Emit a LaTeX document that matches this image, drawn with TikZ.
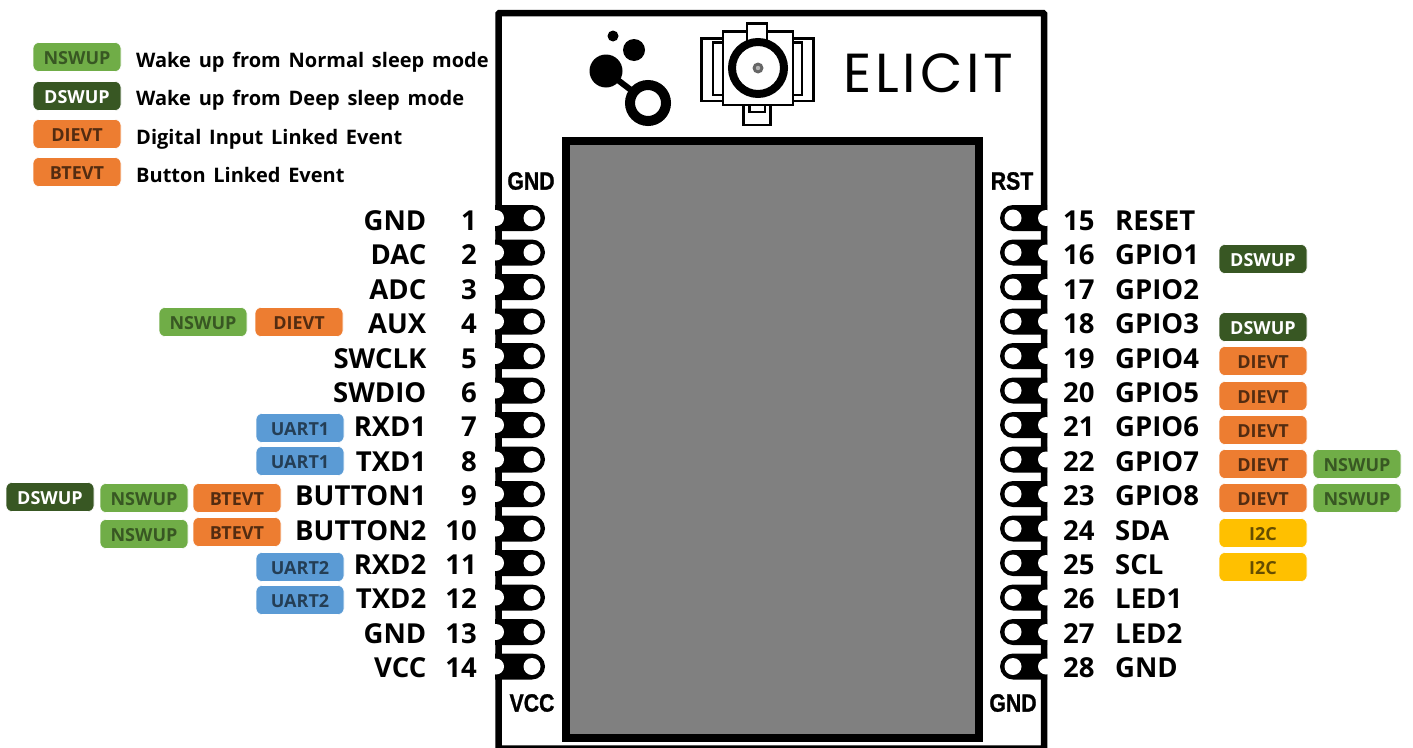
\documentclass[tikz,border=0pt]{standalone}
\usepackage{fontspec}
\setmainfont{Open Sans}
\newfontfamily\legendfont[WordSpace=1.5]{Open Sans}
\newfontfamily\logofont[LetterSpace=7]{Poppins}
\newfontfamily\silkfont[BoldFeatures={FakeBold=1.2}]{Liberation Sans}
\definecolor{cgreen}{HTML}{70AD47}
\definecolor{cdark}{HTML}{385723}
\definecolor{corange}{HTML}{ED7D31}
\definecolor{cblue}{HTML}{5B9BD5}
\definecolor{cyellow}{HTML}{FFC000}
\definecolor{cgray}{HTML}{808080}
\tikzset{
  chip/.style={rounded corners=6pt,minimum width=88pt,minimum height=29pt,inner sep=0pt,text height=15pt,text depth=0pt,font=\fontsize{18}{20}\selectfont\bfseries,draw=white,line width=.6pt},
  nswup/.style={chip,fill=cgreen,text=cdark},
  dswup/.style={chip,fill=cdark,text=white},
  evt/.style={chip,fill=corange,text=corange!35!black},
  uart/.style={chip,fill=cblue,text=cblue!40!black},
  itc/.style={chip,fill=cyellow,text=cyellow!40!black},
  legend/.style={anchor=base west,inner sep=0pt,font=\fontsize{20}{24}\legendfont\bfseries},
  pinl/.style={anchor=base east,inner sep=0pt,font=\fontsize{27.5}{30}\selectfont\bfseries},
  pinr/.style={anchor=base west,inner sep=0pt,font=\fontsize{27.5}{30}\selectfont\bfseries},
  silk/.style={inner sep=0pt,font=\fontsize{25}{28}\silkfont\bfseries},
}
\begin{document}
\begin{tikzpicture}[x=1pt,y=-1pt]
\useasboundingbox (0,0) rectangle (1413,747);
% board outline
\draw[line width=6.5pt,rounded corners=1pt] (498.5,13) rectangle (1044,748.5);
% module
\draw[line width=8pt,fill=cgray] (566,141) rectangle (979,738);
% pads
\foreach \i in {0,...,13}{
  \pgfmathsetmacro{\py}{218+34.5*\i}
  \fill (495,\py-13) -- (532,\py-13) arc[start angle=-90,end angle=90,radius=13] -- (495,\py+13) -- cycle;
  \fill[white] (532,\py) circle[radius=8.5];
  \fill[white] (496,\py) circle[radius=8];
  \fill (1047,\py-13) -- (1013,\py-13) arc[start angle=270,end angle=90,radius=13] -- (1047,\py+13) -- cycle;
  \fill[white] (1013,\py) circle[radius=8.5];
  \fill[white] (1046,\py) circle[radius=8];
}
% bubble logo
\fill (613,36) circle[radius=5.5];
\fill (634,50) circle[radius=11];
\fill (606,71) circle[radius=16.5];
\draw[line width=6pt] (606,71) -- (648,103);
\draw[line width=10pt,fill=white] (648,103) circle[radius=18];
% antenna connector
\draw[line width=2.4pt,fill=white] (701.5,38.5) rectangle (813.5,101);
\draw[line width=2.4pt,fill=white] (713,42.5) rectangle (802,95);
\draw[line width=2.4pt,fill=white] (743.5,100) rectangle (770.5,125);
\draw[line width=2.4pt,fill=white] (749.5,100) rectangle (765,112);
\draw[line width=2.4pt,fill=white] (723,31.5) rectangle (793,105);
\draw[line width=2.4pt,fill=white] (747,44) -- (747,23.5) -- (767,23.5) -- (767,44);
\draw[line width=8pt,fill=white] (758,68) circle[radius=26];
\fill[black!60] (758,68) circle[radius=5.5];
\fill[black!30] (758,68) circle[radius=2.2];
% logo text
\node[inner sep=0pt,anchor=base west] (elicit) at (843,92) {\fontsize{55}{60}\logofont ELICIT};
% silk labels
\node[silk] (sgnd) at (531,181) {\scalebox{.85}[1]{GND}};
\node[silk] (srst) at (1012,181) {\scalebox{.85}[1]{RST}};
\node[silk] (svcc) at (532,703) {\scalebox{.85}[1]{VCC}};
\node[silk] (sgndb) at (1013,703) {\scalebox{.85}[1]{GND}};
% legend
\node[nswup] (ln) at (77,57) {NSWUP};
\node[dswup] (ld) at (77,96) {DSWUP};
\node[evt] (le) at (77,134) {DIEVT};
\node[evt] (lb) at (77,172) {BTEVT};
\node[legend] (ltn) at (136,67) {Wake up from Normal sleep mode};
\node[legend] (ltd) at (136,105) {Wake up from Deep sleep mode};
\node[legend] (lte) at (136,144) {Digital Input Linked Event};
\node[legend] (ltb) at (136,182) {Button Linked Event};
% left pins
\foreach \i/\n/\t in {0/1/GND,1/2/DAC,2/3/ADC,3/4/AUX,4/5/SWCLK,5/6/SWDIO,6/7/RXD1,7/8/TXD1,8/9/BUTTON1,9/10/BUTTON2,10/11/RXD2,11/12/TXD2,12/13/GND,13/14/VCC}{
  \pgfmathsetmacro{\py}{230.5+34.4*\i}
  \node[pinl] (lname\n) at (426.5,\py) {\t};
  \node[pinl] (lnum\n) at (477,\py) {\n};
}
% right pins
\foreach \i/\n/\t in {0/15/RESET,1/16/GPIO1,2/17/GPIO2,3/18/GPIO3,4/19/GPIO4,5/20/GPIO5,6/21/GPIO6,7/22/GPIO7,8/23/GPIO8,9/24/SDA,10/25/SCL,11/26/LED1,12/27/LED2,13/28/GND}{
  \pgfmathsetmacro{\py}{230.5+34.4*\i}
  \node[pinr] (rnum\n) at (1063,\py) {\n};
  \node[pinr] (rname\n) at (1115,\py) {\t};
}
% left chips
\node[nswup] (a1) at (203,322) {NSWUP};
\node[evt] (a2) at (299,322) {DIEVT};
\node[uart] (a3) at (300,428) {UART1};
\node[uart] (a4) at (300,461) {UART1};
\node[dswup] (a5) at (50,497) {DSWUP};
\node[nswup] (a6) at (144,498) {NSWUP};
\node[evt] (a7) at (237,498) {BTEVT};
\node[nswup] (a8) at (144,534) {NSWUP};
\node[evt] (a9) at (237,532) {BTEVT};
\node[uart] (a10) at (300,567) {UART2};
\node[uart] (a11) at (300,600) {UART2};
% right chips
\node[dswup] (b1) at (1263,259) {DSWUP};
\node[dswup] (b2) at (1263,327) {DSWUP};
\node[evt] (b3) at (1263,361) {DIEVT};
\node[evt] (b4) at (1263,396) {DIEVT};
\node[evt] (b5) at (1263,430) {DIEVT};
\node[evt] (b6) at (1263,464) {DIEVT};
\node[nswup] (b7) at (1357,464) {NSWUP};
\node[evt] (b8) at (1263,498) {DIEVT};
\node[nswup] (b9) at (1357,498) {NSWUP};
\node[itc] (b10) at (1263,533) {I2C};
\node[itc] (b11) at (1263,567) {I2C};
\end{tikzpicture}
\end{document}
